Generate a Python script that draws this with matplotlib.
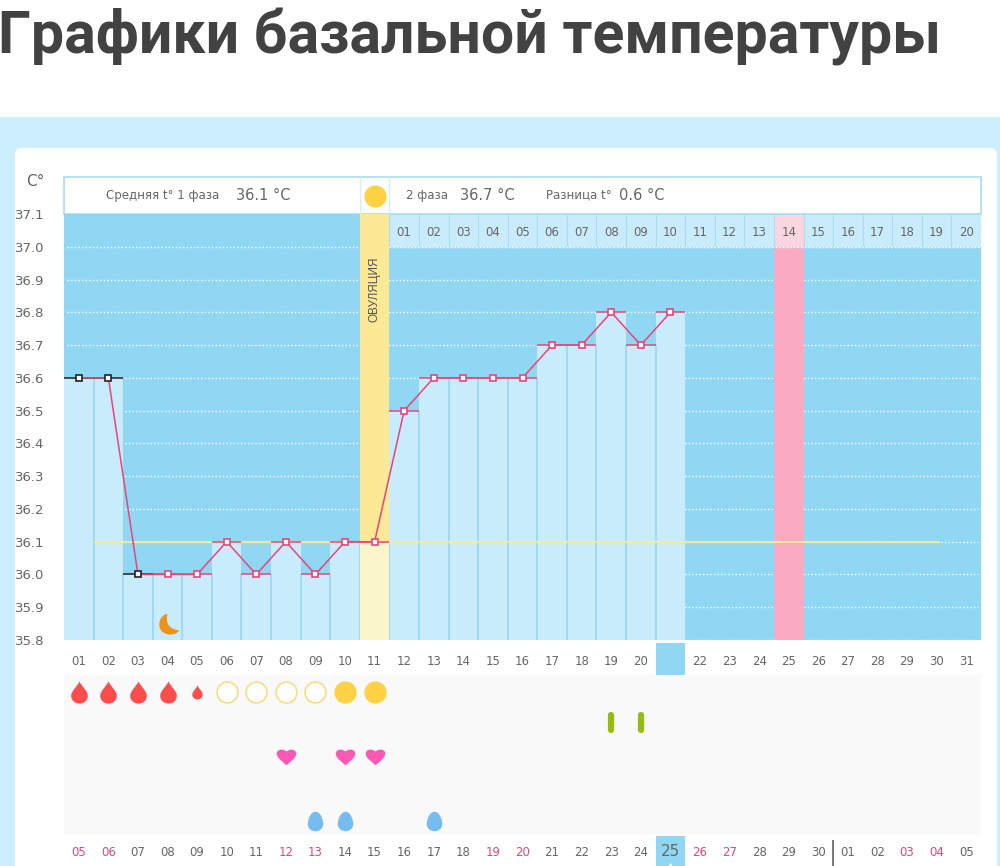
import matplotlib
matplotlib.use('Agg')
import numpy as np
import matplotlib.pyplot as plt
from matplotlib.patches import FancyBboxPatch, Rectangle
from matplotlib.path import Path

## Data ##

days = list(range(1, 32))
day_labels = ['%02d' % d for d in days]
temp_days = list(range(1, 22))
temps = [36.6, 36.6, 36.0, 36.0, 36.0, 36.1, 36.0, 36.1, 36.0, 36.1, 36.1,
         36.5, 36.6, 36.6, 36.6, 36.6, 36.7, 36.7, 36.8, 36.7, 36.8]
black_days = [1, 2, 3]
y_ticks = [35.8, 35.9, 36.0, 36.1, 36.2, 36.3, 36.4, 36.5, 36.6, 36.7, 36.8, 36.9, 37.0, 37.1]
mean_temp = 36.1
ovulation_day = 11
pink_day = 25
today_day = 21
moon_day = 4

phase_days = ['%02d' % d for d in range(1, 21)]
dates = ['05', '06', '07', '08', '09', '10', '11', '12', '13', '14', '15', '16', '17', '18', '19', '20',
         '21', '22', '23', '24', '25', '26', '27', '28', '29', '30', '01', '02', '03', '04', '05']
weekend_days = [1, 2, 8, 9, 15, 16, 22, 23, 29, 30]

big_drop_days = [1, 2, 3, 4]
small_drop_days = [5]
ring_days = [6, 7, 8, 9]
sun_days = [10, 11]
rod_days = [19, 20]
heart_days = [8, 10, 11]
egg_days = [9, 10, 13]

## Colours ##

SKY = '#90D7F3'
LIGHT = '#C9ECFC'
PAGE = '#CDEEFC'
GREY = '#666666'
RED = '#E8457A'
SUN = '#FFD245'

plt.rcParams['font.family'] = ['DejaVu Sans']

## Marker shapes ##

C4 = Path.CURVE4
codes = [Path.MOVETO, C4, C4, C4, C4, C4, C4, C4, C4, C4]
drop = Path([(0, 1), (.15, .6), (.75, .15), (.75, -.3), (.75, -.72), (.4, -1), (0, -1),
             (-.4, -1), (-.75, -.72), (-.75, -.3)], codes)
drop = Path(list(drop.vertices) + [(-.75, .15), (-.15, .6), (0, 1)], codes + [C4, C4, C4])
heart = Path([(0, -.9), (-.35, -.55), (-1, -.2), (-1, .3), (-1, .75), (-.35, .85), (0, .5),
              (.35, .85), (1, .75), (1, .3), (1, -.2), (.35, -.55), (0, -.9)], codes + [C4, C4, C4])
egg = Path([(0, 1), (.5, 1), (.8, .2), (.8, -.25), (.8, -.75), (.4, -1), (0, -1),
            (-.4, -1), (-.8, -.75), (-.8, -.25), (-.8, .2), (-.5, 1), (0, 1)], codes + [C4, C4, C4])
moon = Path([(-.1, 1), (-.85, .9), (-1.1, -.2), (-.6, -.65), (-.1, -1.1), (.7, -1), (1, -.55),
             (.45, -.45), (-.35, -.3), (-.1, 1)], codes)

## Figure, page background in pixel coordinates ##

fig = plt.figure(figsize=(10, 8.66), dpi=100, facecolor='white')

bg = fig.add_axes([0, 0, 1, 1])
bg.set_xlim(0, 1000)
bg.set_ylim(866, 0)
bg.axis('off')
bg.add_patch(Rectangle((0, 117), 1000, 749, color=PAGE, lw=0))
bg.add_patch(FancyBboxPatch((21, 154), 970, 720, boxstyle='round,pad=6,rounding_size=7',
                            fc='white', ec='none'))
bg.text(-2, 37, 'Графики базальной температуры', fontsize=42.5, fontweight='bold',
        family='Roboto', color='#424242', va='center', ha='left')
bg.text(35, 181, 'C°', fontsize=11, color=GREY, ha='center', va='center')

# header strip
bg.add_patch(Rectangle((64, 177), 917, 37, fc='white', ec='#A9DDF2', lw=1.2))
bg.plot([360, 360], [177, 214], color='#D5EEF8', lw=1)
bg.plot([389, 389], [177, 214], color='#D5EEF8', lw=1)
bg.plot([375], [196], 'o', ms=16, color=SUN, mec='none')
bg.text(106, 195, 'Средняя t° 1 фаза', fontsize=8.5, color=GREY, va='center')
bg.text(236, 195, '36.1 °C', fontsize=10.5, color=GREY, va='center')
bg.text(406, 195, '2 фаза', fontsize=8.5, color=GREY, va='center')
bg.text(460, 195, '36.7 °C', fontsize=10.5, color=GREY, va='center')
bg.text(546, 195, 'Разница t°', fontsize=8.5, color=GREY, va='center')
bg.text(619, 195, '0.6 °C', fontsize=10.5, color=GREY, va='center')

## Temperature chart ##

ax = fig.add_axes([64 / 1000, 1 - 640 / 866, 917 / 1000, (640 - 214) / 866])
ax.set_xlim(0.5, 31.5)
ax.set_ylim(35.8, 37.1)
ax.set_facecolor(SKY)
for s in ax.spines.values():
    s.set_visible(False)

ax.hlines(y_ticks[1:-1], 0.6, 31.4, colors='white', linestyles=(0, (1, 1.6)), lw=1, zorder=1)
ax.hlines(35.8, 21.5, 31.5, colors='white', linestyles=(0, (1, 1.6)), lw=1, zorder=1)

# light bars up to each day's temperature
ax.bar(temp_days, [t - 35.8 for t in temps], bottom=35.8, width=1, color=LIGHT, lw=0, zorder=2)
for d, t, next_t in zip(temp_days[:-1], temps[:-1], temps[1:]):
    ax.vlines(d + 0.5, 35.8, min(t, next_t), colors='#97D6F1', lw=1.2, zorder=3)

# ovulation and pink columns
ax.axvspan(ovulation_day - 0.5, ovulation_day + 0.5, ymin=0, ymax=(mean_temp - 35.8) / 1.3,
           color='#FBF6C9', lw=0, zorder=3)
ax.axvspan(ovulation_day - 0.5, ovulation_day + 0.5, ymin=(mean_temp - 35.8) / 1.3, ymax=1,
           color='#FBE995', lw=0, zorder=3)
ax.axvspan(pink_day - 0.5, pink_day + 0.5, color='#FBABC1', lw=0, zorder=3)
ax.text(ovulation_day, 36.87, 'ОВУЛЯЦИЯ', rotation=90, fontsize=8.5, color='#555555',
        ha='center', va='center', zorder=4, family='Liberation Sans')

# cycle day cells on top
for i, label in enumerate(phase_days):
    d = ovulation_day + 1 + i
    ax.add_patch(Rectangle((d - 0.5, 37.0), 1, 0.1, fc='#FBD6E0' if d == pink_day else LIGHT,
                           ec='#A9DDF2', lw=0.8, zorder=4))
    ax.text(d, 37.045, label, fontsize=8.5, color=GREY, ha='center', va='center', zorder=5)
ax.hlines(37.0, ovulation_day + 0.5, 31.5, colors='white', linestyles=(0, (1, 1.6)), lw=1, zorder=5)

ax.hlines(mean_temp, 1.5, 30.1, colors='#F5EB9C', lw=1.3, zorder=5)

# caps, line and markers
for d, t in zip(temp_days, temps):
    cap = '#222222' if d in black_days else RED
    ax.hlines(t, d - 0.5, d + 0.5, colors=cap, lw=1.1, zorder=6)
ax.plot(temp_days, temps, color=RED, lw=1.1, zorder=7)
ax.plot(temp_days[3:], temps[3:], ls='none', marker='s', ms=5, mfc='white', mec=RED, mew=1.2, zorder=8)
ax.plot(temp_days[:3], temps[:3], ls='none', marker='s', ms=5, mfc='white', mec='#222222', mew=1.2, zorder=8)
ax.plot([moon_day], [35.85], ls='none', marker=moon, ms=17, color='#F0921A', mec='none', zorder=8)

ax.set_yticks(y_ticks)
ax.set_yticklabels(['%.1f' % t for t in y_ticks], fontsize=9.5, color=GREY)
ax.set_xticks(days)
ax.set_xticklabels(day_labels, fontsize=8.5, color=GREY)
ax.tick_params(axis='y', length=0, pad=14)
ax.tick_params(axis='x', length=0, pad=11)

## Symbol rows and date strip, y in pixels ##

ax2 = fig.add_axes([64 / 1000, 0, 917 / 1000, (866 - 640) / 866])
ax2.set_xlim(0.5, 31.5)
ax2.set_ylim(866, 640)
ax2.patch.set_alpha(0)
ax2.axis('off')

ax2.add_patch(Rectangle((0.5, 675), 31, 160, fc='#F9F9F9', ec='none', zorder=0))
ax2.add_patch(Rectangle((today_day - 0.5, 643), 1, 32, fc=SKY, ec='none', zorder=2))
ax2.add_patch(Rectangle((today_day - 0.5, 836), 1, 30, fc=SKY, ec='none', zorder=2))
ax.get_xticklabels()[today_day - 1].set_zorder(5)

ax2.plot(big_drop_days, [692] * len(big_drop_days), ls='none', marker=drop, ms=16, color='#FF4D4D', mec='none')
ax2.plot(small_drop_days, [692] * len(small_drop_days), ls='none', marker=drop, ms=10, color='#FF4D4D', mec='none')
ax2.plot(ring_days, [692] * len(ring_days), ls='none', marker='o', ms=15, mfc='white', mec='#F6E08A', mew=1.3)
ax2.plot(sun_days, [692] * len(sun_days), ls='none', marker='o', ms=16, color=SUN, mec='none')
ax2.vlines(rod_days, 715, 730, colors='#96BC14', lw=4.5, capstyle='round')
ax2.plot(heart_days, [756] * len(heart_days), ls='none', marker=heart, ms=14, color='#FF57B4', mec='none')
ax2.plot(egg_days, [821] * len(egg_days), ls='none', marker=egg, ms=14, color='#74BDEE', mec='none')

for d, label in zip(days, dates):
    col = RED if d in weekend_days else GREY
    size = 8.5
    y = 853
    if d == today_day:
        size = 11
        y = 851
    ax2.text(d, y, label, fontsize=size, color=col, ha='center', va='center', zorder=3)
ax2.plot([today_day], [865], ls='none', marker='^', ms=4, color='white', mec='none', zorder=4)
ax2.vlines(26.5, 840, 866, colors='#555555', lw=1.1)

fig.savefig('out.png', dpi=100)
